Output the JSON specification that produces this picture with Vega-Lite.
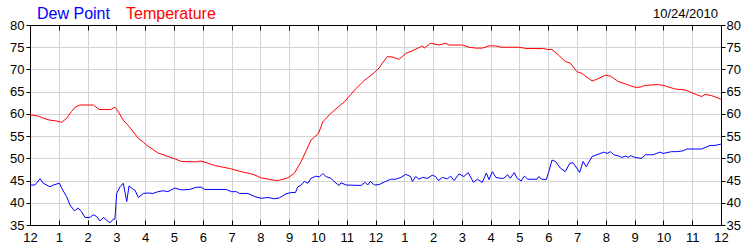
{
 "$schema": "https://vega.github.io/schema/vega-lite/v6.json",
 "width": 691, "height": 200,
 "autosize": {"type": "none"},
 "padding": {"left": 30, "top": 25, "right": 29, "bottom": 25},
 "background": "white",
 "title": {"text": "10/24/2010", "anchor": "end", "frame": "group", "fontSize": 13, "fontWeight": "normal", "font": "Liberation Sans", "color": "#000000", "offset": 6, "dy": 21, "dx": -3},
 "datasets": {
  "wx": [
   {"h":0,"s":"Temperature","v":59.8},{"h":0.29,"s":"Temperature","v":59.5},{"h":0.52,"s":"Temperature","v":58.9},{"h":0.69,"s":"Temperature","v":58.6},{"h":0.93,"s":"Temperature","v":58.4},{"h":1.1,"s":"Temperature","v":58.1},{"h":1.27,"s":"Temperature","v":59.0},{"h":1.44,"s":"Temperature","v":60.5},{"h":1.56,"s":"Temperature","v":61.5},{"h":1.73,"s":"Temperature","v":62.0},{"h":2.2,"s":"Temperature","v":62.0},{"h":2.4,"s":"Temperature","v":61.0},{"h":2.8,"s":"Temperature","v":61.0},{"h":2.95,"s":"Temperature","v":61.5},{"h":3.04,"s":"Temperature","v":60.8},{"h":3.24,"s":"Temperature","v":58.6},{"h":3.42,"s":"Temperature","v":57.3},{"h":3.53,"s":"Temperature","v":56.4},{"h":3.76,"s":"Temperature","v":54.5},{"h":3.94,"s":"Temperature","v":53.6},{"h":4.06,"s":"Temperature","v":52.9},{"h":4.45,"s":"Temperature","v":51.2},{"h":5.02,"s":"Temperature","v":49.9},{"h":5.26,"s":"Temperature","v":49.3},{"h":5.78,"s":"Temperature","v":49.2},{"h":5.94,"s":"Temperature","v":49.4},{"h":6.41,"s":"Temperature","v":48.4},{"h":6.94,"s":"Temperature","v":47.7},{"h":7.4,"s":"Temperature","v":46.9},{"h":7.75,"s":"Temperature","v":46.4},{"h":8.03,"s":"Temperature","v":45.6},{"h":8.49,"s":"Temperature","v":45.05},{"h":8.66,"s":"Temperature","v":45.05},{"h":8.95,"s":"Temperature","v":45.6},{"h":9.18,"s":"Temperature","v":46.6},{"h":9.41,"s":"Temperature","v":49.2},{"h":9.59,"s":"Temperature","v":51.7},{"h":9.76,"s":"Temperature","v":54.1},{"h":10.02,"s":"Temperature","v":55.6},{"h":10.17,"s":"Temperature","v":58.2},{"h":10.4,"s":"Temperature","v":59.8},{"h":10.69,"s":"Temperature","v":61.5},{"h":10.92,"s":"Temperature","v":62.7},{"h":11.04,"s":"Temperature","v":63.6},{"h":11.32,"s":"Temperature","v":65.7},{"h":11.61,"s":"Temperature","v":67.5},{"h":11.96,"s":"Temperature","v":69.3},{"h":12.12,"s":"Temperature","v":70.3},{"h":12.25,"s":"Temperature","v":71.5},{"h":12.41,"s":"Temperature","v":72.9},{"h":12.58,"s":"Temperature","v":72.8},{"h":12.82,"s":"Temperature","v":72.3},{"h":13.05,"s":"Temperature","v":73.6},{"h":13.28,"s":"Temperature","v":74.2},{"h":13.63,"s":"Temperature","v":75.3},{"h":13.69,"s":"Temperature","v":74.8},{"h":13.92,"s":"Temperature","v":75.9},{"h":14.2,"s":"Temperature","v":75.5},{"h":14.44,"s":"Temperature","v":75.9},{"h":14.55,"s":"Temperature","v":75.5},{"h":15.02,"s":"Temperature","v":75.5},{"h":15.25,"s":"Temperature","v":75.0},{"h":15.48,"s":"Temperature","v":74.8},{"h":15.71,"s":"Temperature","v":74.8},{"h":15.94,"s":"Temperature","v":75.3},{"h":16.18,"s":"Temperature","v":75.3},{"h":16.36,"s":"Temperature","v":75.0},{"h":16.97,"s":"Temperature","v":75.0},{"h":17.26,"s":"Temperature","v":74.7},{"h":17.84,"s":"Temperature","v":74.7},{"h":17.96,"s":"Temperature","v":74.5},{"h":18.13,"s":"Temperature","v":74.5},{"h":18.36,"s":"Temperature","v":73.2},{"h":18.59,"s":"Temperature","v":71.8},{"h":18.77,"s":"Temperature","v":71.4},{"h":19.0,"s":"Temperature","v":69.5},{"h":19.17,"s":"Temperature","v":69.1},{"h":19.52,"s":"Temperature","v":67.4},{"h":19.69,"s":"Temperature","v":67.8},{"h":19.98,"s":"Temperature","v":68.7},{"h":20.16,"s":"Temperature","v":68.5},{"h":20.43,"s":"Temperature","v":67.3},{"h":20.78,"s":"Temperature","v":66.5},{"h":21.0,"s":"Temperature","v":66.0},{"h":21.19,"s":"Temperature","v":66.0},{"h":21.34,"s":"Temperature","v":66.4},{"h":21.82,"s":"Temperature","v":66.6},{"h":22.06,"s":"Temperature","v":66.3},{"h":22.4,"s":"Temperature","v":65.6},{"h":22.75,"s":"Temperature","v":65.4},{"h":23.16,"s":"Temperature","v":64.3},{"h":23.33,"s":"Temperature","v":63.9},{"h":23.45,"s":"Temperature","v":64.4},{"h":23.68,"s":"Temperature","v":64.1},{"h":24.0,"s":"Temperature","v":63.3},
   {"h":0,"s":"Dew Point","v":44.0},{"h":0.17,"s":"Dew Point","v":44.0},{"h":0.35,"s":"Dew Point","v":45.4},{"h":0.46,"s":"Dew Point","v":44.4},{"h":0.69,"s":"Dew Point","v":43.6},{"h":0.81,"s":"Dew Point","v":44.0},{"h":1.02,"s":"Dew Point","v":44.4},{"h":1.1,"s":"Dew Point","v":43.3},{"h":1.27,"s":"Dew Point","v":41.4},{"h":1.39,"s":"Dew Point","v":39.5},{"h":1.54,"s":"Dew Point","v":38.2},{"h":1.68,"s":"Dew Point","v":38.8},{"h":1.79,"s":"Dew Point","v":38.0},{"h":1.91,"s":"Dew Point","v":36.7},{"h":2.08,"s":"Dew Point","v":36.7},{"h":2.2,"s":"Dew Point","v":37.3},{"h":2.32,"s":"Dew Point","v":36.9},{"h":2.43,"s":"Dew Point","v":35.9},{"h":2.55,"s":"Dew Point","v":36.7},{"h":2.66,"s":"Dew Point","v":36.1},{"h":2.78,"s":"Dew Point","v":35.5},{"h":2.89,"s":"Dew Point","v":36.3},{"h":2.95,"s":"Dew Point","v":36.3},{"h":3.01,"s":"Dew Point","v":42.1},{"h":3.13,"s":"Dew Point","v":43.6},{"h":3.24,"s":"Dew Point","v":44.4},{"h":3.36,"s":"Dew Point","v":40.3},{"h":3.44,"s":"Dew Point","v":43.8},{"h":3.59,"s":"Dew Point","v":43.0},{"h":3.65,"s":"Dew Point","v":42.8},{"h":3.76,"s":"Dew Point","v":41.2},{"h":3.94,"s":"Dew Point","v":42.1},{"h":4.1,"s":"Dew Point","v":42.2},{"h":4.27,"s":"Dew Point","v":42.1},{"h":4.45,"s":"Dew Point","v":42.5},{"h":4.62,"s":"Dew Point","v":42.7},{"h":4.79,"s":"Dew Point","v":42.5},{"h":5.02,"s":"Dew Point","v":43.3},{"h":5.26,"s":"Dew Point","v":42.9},{"h":5.55,"s":"Dew Point","v":43.0},{"h":5.78,"s":"Dew Point","v":43.5},{"h":5.95,"s":"Dew Point","v":43.5},{"h":6.07,"s":"Dew Point","v":43.0},{"h":6.82,"s":"Dew Point","v":43.0},{"h":6.99,"s":"Dew Point","v":42.5},{"h":7.17,"s":"Dew Point","v":42.5},{"h":7.28,"s":"Dew Point","v":42.1},{"h":7.57,"s":"Dew Point","v":42.1},{"h":7.8,"s":"Dew Point","v":41.4},{"h":8.03,"s":"Dew Point","v":41.0},{"h":8.26,"s":"Dew Point","v":41.2},{"h":8.49,"s":"Dew Point","v":40.9},{"h":8.66,"s":"Dew Point","v":41.1},{"h":8.89,"s":"Dew Point","v":42.0},{"h":9.07,"s":"Dew Point","v":42.3},{"h":9.22,"s":"Dew Point","v":42.3},{"h":9.3,"s":"Dew Point","v":43.6},{"h":9.41,"s":"Dew Point","v":43.9},{"h":9.53,"s":"Dew Point","v":44.8},{"h":9.65,"s":"Dew Point","v":44.4},{"h":9.76,"s":"Dew Point","v":45.5},{"h":9.93,"s":"Dew Point","v":46.0},{"h":10.05,"s":"Dew Point","v":45.8},{"h":10.17,"s":"Dew Point","v":46.6},{"h":10.28,"s":"Dew Point","v":45.9},{"h":10.45,"s":"Dew Point","v":45.5},{"h":10.63,"s":"Dew Point","v":44.4},{"h":10.74,"s":"Dew Point","v":43.9},{"h":10.8,"s":"Dew Point","v":44.5},{"h":10.98,"s":"Dew Point","v":44.0},{"h":11.5,"s":"Dew Point","v":43.9},{"h":11.64,"s":"Dew Point","v":44.6},{"h":11.73,"s":"Dew Point","v":44.0},{"h":11.82,"s":"Dew Point","v":44.8},{"h":11.96,"s":"Dew Point","v":44.0},{"h":12.13,"s":"Dew Point","v":44.1},{"h":12.35,"s":"Dew Point","v":44.8},{"h":12.53,"s":"Dew Point","v":45.3},{"h":12.7,"s":"Dew Point","v":45.3},{"h":12.88,"s":"Dew Point","v":45.7},{"h":13.05,"s":"Dew Point","v":46.4},{"h":13.22,"s":"Dew Point","v":45.9},{"h":13.28,"s":"Dew Point","v":44.8},{"h":13.4,"s":"Dew Point","v":45.9},{"h":13.51,"s":"Dew Point","v":45.3},{"h":13.63,"s":"Dew Point","v":45.7},{"h":13.8,"s":"Dew Point","v":45.5},{"h":13.97,"s":"Dew Point","v":46.2},{"h":14.09,"s":"Dew Point","v":45.9},{"h":14.18,"s":"Dew Point","v":45.0},{"h":14.32,"s":"Dew Point","v":45.7},{"h":14.5,"s":"Dew Point","v":45.4},{"h":14.61,"s":"Dew Point","v":46.0},{"h":14.73,"s":"Dew Point","v":45.0},{"h":14.9,"s":"Dew Point","v":46.5},{"h":15.07,"s":"Dew Point","v":45.9},{"h":15.22,"s":"Dew Point","v":46.8},{"h":15.4,"s":"Dew Point","v":44.6},{"h":15.54,"s":"Dew Point","v":45.3},{"h":15.71,"s":"Dew Point","v":44.6},{"h":15.85,"s":"Dew Point","v":46.7},{"h":15.94,"s":"Dew Point","v":45.2},{"h":16.06,"s":"Dew Point","v":47.0},{"h":16.18,"s":"Dew Point","v":45.7},{"h":16.35,"s":"Dew Point","v":45.5},{"h":16.45,"s":"Dew Point","v":45.5},{"h":16.59,"s":"Dew Point","v":46.3},{"h":16.68,"s":"Dew Point","v":45.5},{"h":16.82,"s":"Dew Point","v":46.8},{"h":16.92,"s":"Dew Point","v":45.5},{"h":17.06,"s":"Dew Point","v":44.9},{"h":17.17,"s":"Dew Point","v":46.0},{"h":17.29,"s":"Dew Point","v":45.3},{"h":17.61,"s":"Dew Point","v":45.3},{"h":17.67,"s":"Dew Point","v":45.9},{"h":17.78,"s":"Dew Point","v":45.3},{"h":17.93,"s":"Dew Point","v":45.2},{"h":18.02,"s":"Dew Point","v":47.0},{"h":18.13,"s":"Dew Point","v":49.6},{"h":18.25,"s":"Dew Point","v":49.3},{"h":18.42,"s":"Dew Point","v":47.8},{"h":18.59,"s":"Dew Point","v":47.0},{"h":18.75,"s":"Dew Point","v":48.9},{"h":18.86,"s":"Dew Point","v":49.0},{"h":18.94,"s":"Dew Point","v":48.3},{"h":19.09,"s":"Dew Point","v":46.8},{"h":19.21,"s":"Dew Point","v":49.3},{"h":19.32,"s":"Dew Point","v":48.1},{"h":19.52,"s":"Dew Point","v":50.4},{"h":19.69,"s":"Dew Point","v":50.8},{"h":19.93,"s":"Dew Point","v":51.4},{"h":20.04,"s":"Dew Point","v":51.1},{"h":20.16,"s":"Dew Point","v":51.5},{"h":20.28,"s":"Dew Point","v":50.8},{"h":20.46,"s":"Dew Point","v":50.5},{"h":20.55,"s":"Dew Point","v":50.2},{"h":20.69,"s":"Dew Point","v":50.5},{"h":20.78,"s":"Dew Point","v":50.2},{"h":20.87,"s":"Dew Point","v":50.6},{"h":21.01,"s":"Dew Point","v":50.2},{"h":21.24,"s":"Dew Point","v":50.0},{"h":21.38,"s":"Dew Point","v":50.8},{"h":21.64,"s":"Dew Point","v":50.8},{"h":21.88,"s":"Dew Point","v":51.4},{"h":21.99,"s":"Dew Point","v":51.1},{"h":22.28,"s":"Dew Point","v":51.5},{"h":22.46,"s":"Dew Point","v":51.5},{"h":22.69,"s":"Dew Point","v":51.7},{"h":22.81,"s":"Dew Point","v":52.1},{"h":23.33,"s":"Dew Point","v":52.1},{"h":23.62,"s":"Dew Point","v":52.9},{"h":23.79,"s":"Dew Point","v":52.9},{"h":24.0,"s":"Dew Point","v":53.2}
  ]
 },
 "data": {"name": "wx"},
 "encoding": {
  "color": {"field": "s", "type": "nominal",
   "scale": {"domain": ["Dew Point", "Temperature"], "range": ["#0000ff", "#ff0000"]},
   "legend": {"orient": "none", "legendX": -9, "legendY": -19, "direction": "horizontal", "title": null,
    "symbolSize": 0, "symbolStrokeWidth": 0, "symbolOpacity": 0, "labelOffset": 0, "columnPadding": -5,
    "labelFontSize": 16, "labelFont": "Liberation Sans",
    "labelColor": {"expr": "datum.value == 'Dew Point' ? '#0000ff' : '#ff0000'"}}}
 },
 "layer": [
  {"mark": {"type": "line", "strokeWidth": 1},
   "encoding": {
    "x": {"field": "h", "type": "quantitative", "scale": {"domain": [0, 24], "nice": false},
     "axis": {"orient": "bottom", "values": [0,1,2,3,4,5,6,7,8,9,10,11,12,13,14,15,16,17,18,19,20,21,22,23,24],
      "labelExpr": "datum.value % 12 == 0 ? '12' : '' + (datum.value % 12)", "title": null,
      "grid": true, "gridColor": "#d3d3d3", "domainColor": "#000000", "tickColor": "#000000", "tickSize": -5,
      "labelPadding": 11, "labelFontSize": 13, "labelFont": "Liberation Sans", "labelColor": "#000000",
      "labelOverlap": false, "labelFlush": false, "labelBound": false}},
    "y": {"field": "v", "type": "quantitative", "scale": {"domain": [35, 80], "nice": false, "zero": false},
     "axis": {"orient": "left", "values": [35,40,45,50,55,60,65,70,75,80], "title": null,
      "grid": true, "gridColor": "#d3d3d3", "domainColor": "#000000", "tickColor": "#000000", "tickSize": 4,
      "labelPadding": 2, "labelFontSize": 13, "labelFont": "Liberation Sans", "labelColor": "#000000",
      "labelOverlap": false, "labelFlush": false, "labelBound": false}}
   }},
  {"mark": {"type": "line", "strokeWidth": 1, "opacity": 0},
   "encoding": {
    "x": {"field": "h", "type": "quantitative", "scale": {"domain": [0, 24], "nice": false},
     "axis": {"orient": "top", "values": [0,1,2,3,4,5,6,7,8,9,10,11,12,13,14,15,16,17,18,19,20,21,22,23,24],
      "labels": false, "title": null, "grid": false, "domainColor": "#000000", "tickColor": "#000000", "tickSize": -5}},
    "y": {"field": "v", "type": "quantitative", "scale": {"domain": [35, 80], "nice": false, "zero": false},
     "axis": {"orient": "right", "values": [35,40,45,50,55,60,65,70,75,80], "title": null,
      "grid": false, "domainColor": "#000000", "tickColor": "#000000", "tickSize": 4,
      "labelPadding": 1, "labelFontSize": 13, "labelFont": "Liberation Sans", "labelColor": "#000000",
      "labelOverlap": false, "labelFlush": false, "labelBound": false}}
   }}
 ],
 "resolve": {"axis": {"x": "independent", "y": "independent"}}
}
